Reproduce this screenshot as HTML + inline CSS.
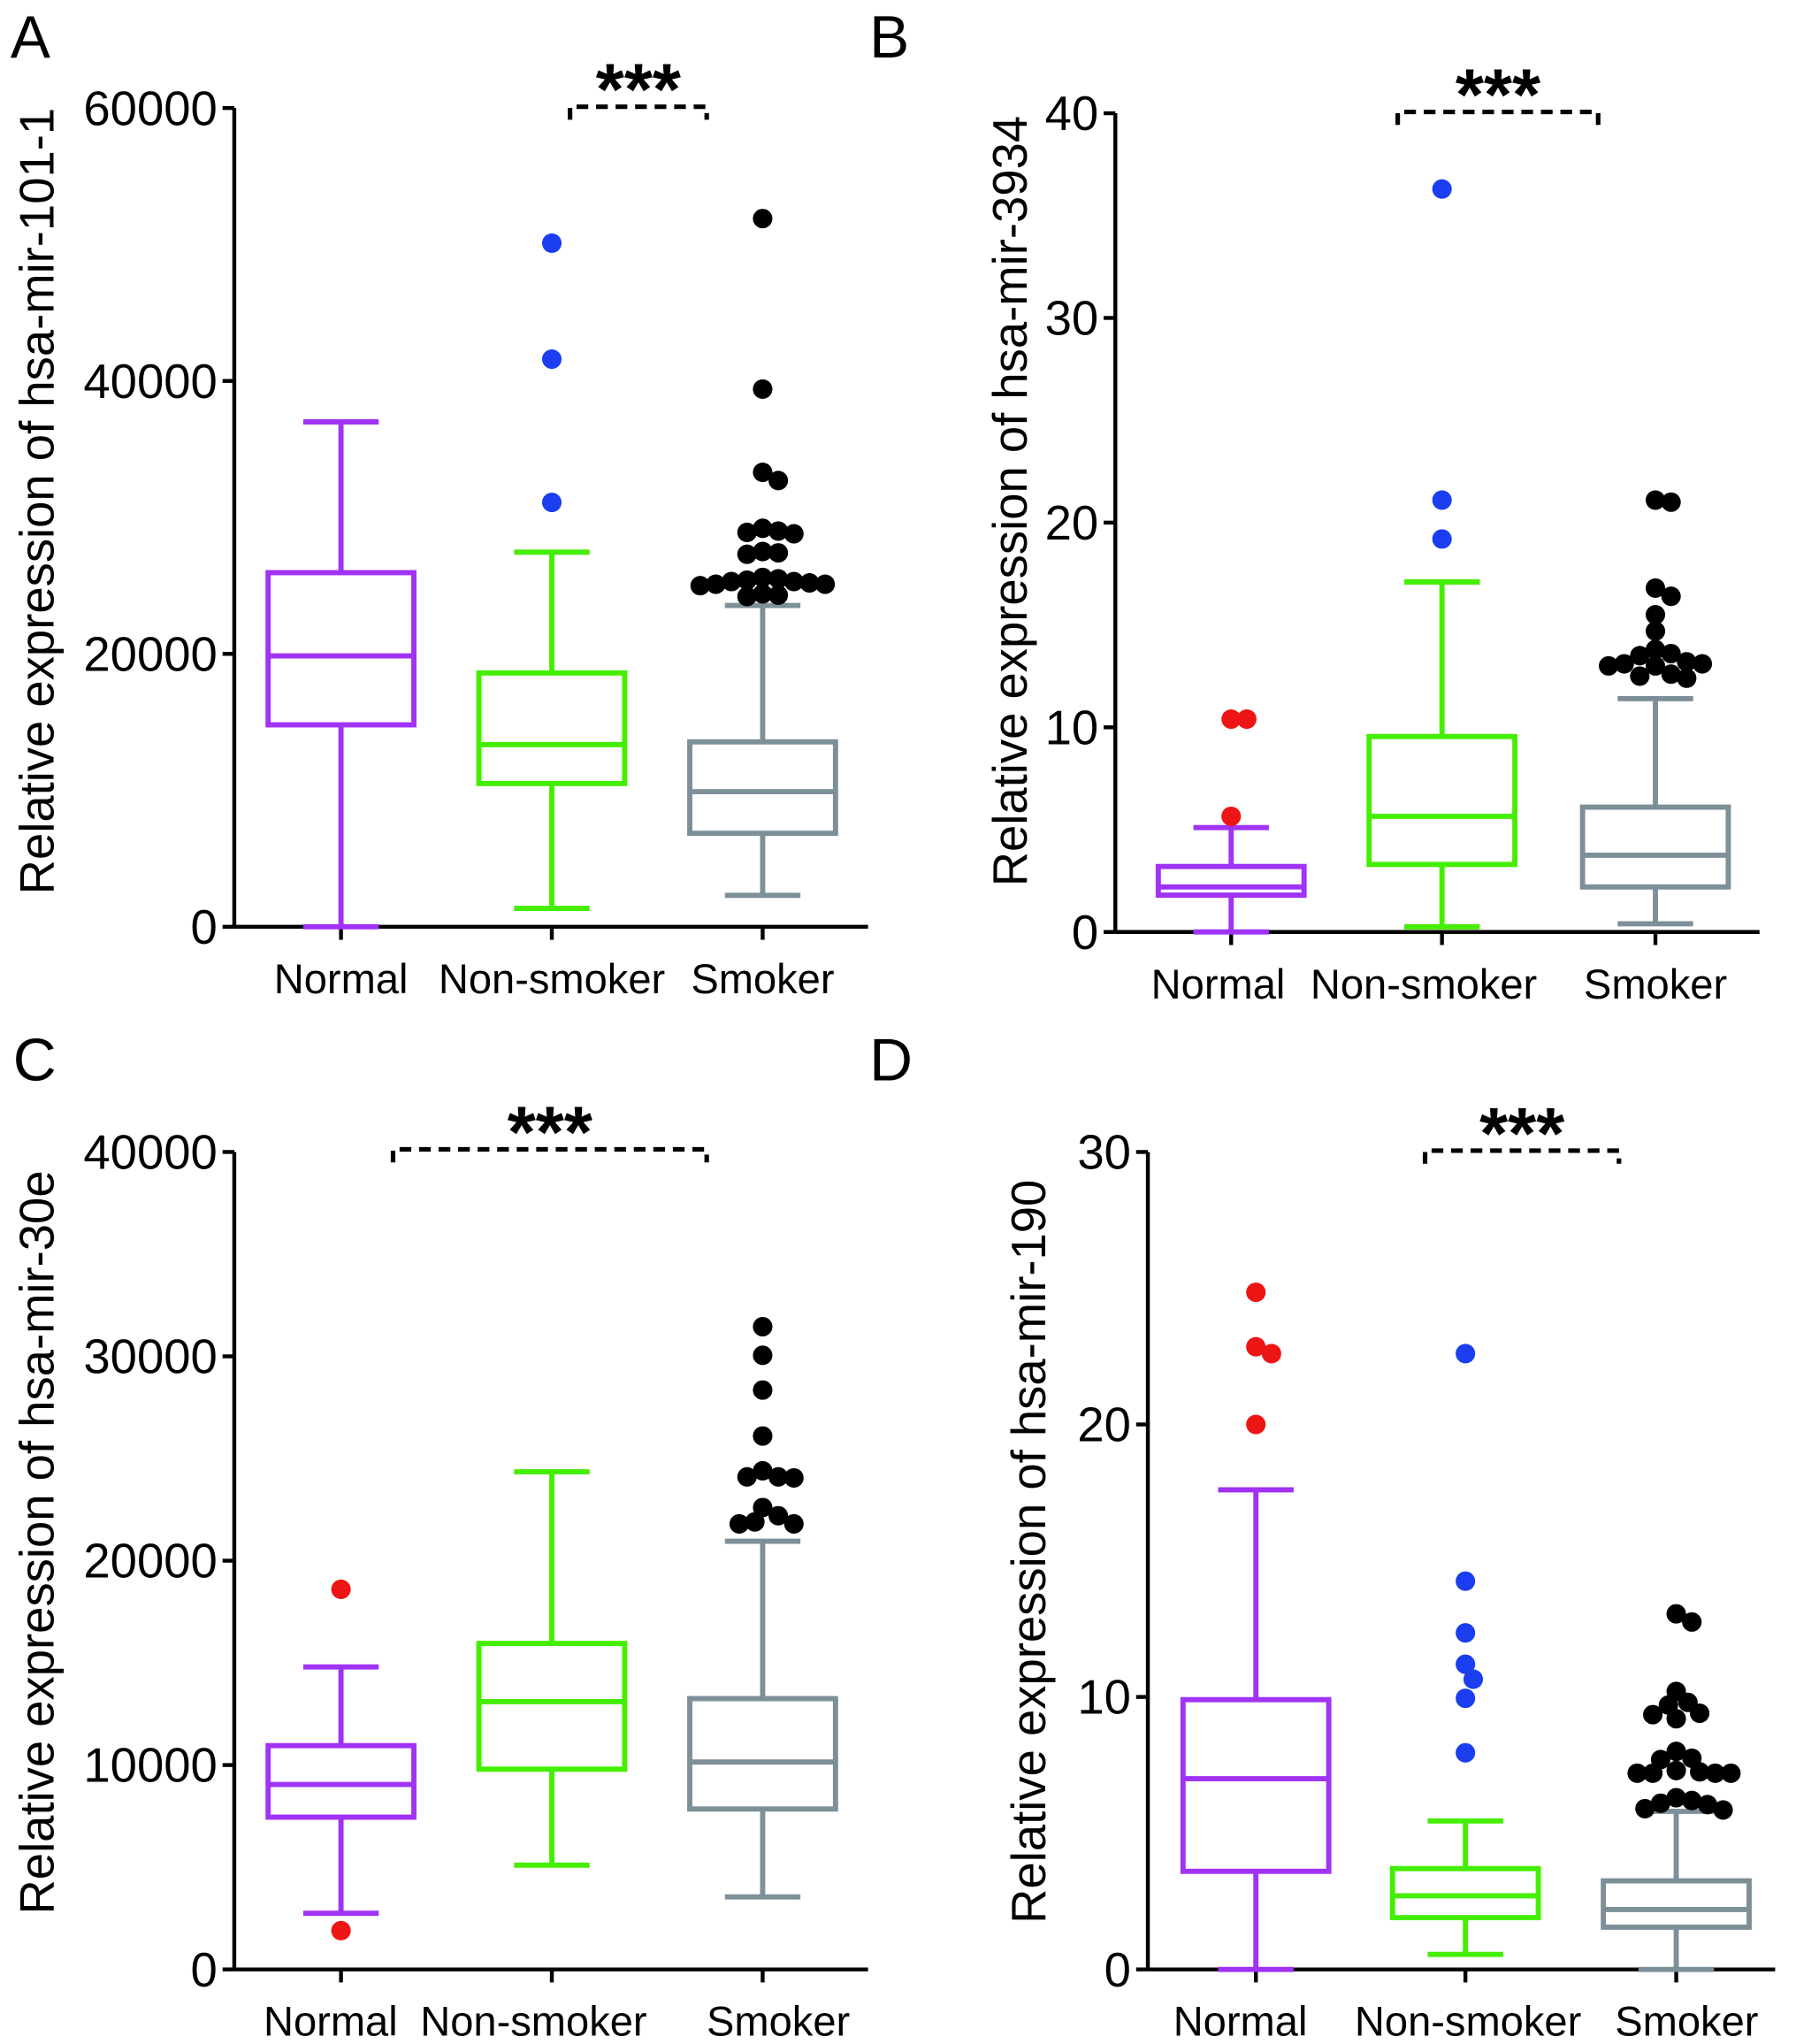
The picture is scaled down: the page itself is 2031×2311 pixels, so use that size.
<!DOCTYPE html>
<html><head><meta charset="utf-8"><style>
html,body{margin:0;padding:0;background:#fff}
svg{display:block}
text{font-family:"Liberation Sans",Arial,sans-serif;fill:#000}
</style></head><body>
<svg id="fig" width="2031" height="2311" viewBox="0 0 1380 1570.3" xmlns="http://www.w3.org/2000/svg"></svg>
<script>
// ---- data ----
const categories = ["Normal","Non-smoker","Smoker"];
// panel A: hsa-mir-101-1  [lower, q1, median, q3, upper]
const statsA = [[0,14800,19850,25950,37000],[1350,10500,13350,18600,27450],[2300,6850,9900,13550,23550]];
const outNormalA = [];
const outNonA = [31100,41600,50100];
const outSmokerA = [51900,39400,33300,32700,29000,28800,28900,29200,27400,27500,27300,25600,25400,25300,25200,25100,25000,25100,25300,25500,24400,24300,24200];
const ticksA = [0,20000,40000,60000];
// panel B: hsa-mir-3934
const statsB = [[0,1.8,2.2,3.2,5.1],[0.25,3.3,5.65,9.55,17.1],[0.4,2.2,3.75,6.1,11.4]];
const outNormalB = [5.65,10.4,10.4];
const outNonB = [19.2,21.1,36.3];
const outSmokerB = [21.0,21.1,16.8,16.4,15.5,14.7,13.8,13.6,13.5,13.2,13.1,13.0,13.1,13.0,12.6,12.5,12.4];
const ticksB = [0,10,20,30,40];
// panel C: hsa-mir-30e
const statsC = [[2750,7450,9050,10950,14800],[5100,9800,13100,15950,24350],[3550,7850,10150,13250,20950]];
const outNormalC = [18600,1900];
const outNonC = [];
const outSmokerC = [31450,30050,28350,26100,24400,24100,24050,24100,22600,22200,21800,21800,21900];
const ticksC = [0,10000,20000,30000,40000];
// panel D: hsa-mir-190
const statsD = [[0,3.6,7.0,9.9,17.6],[0.55,1.9,2.7,3.7,5.45],[0,1.55,2.2,3.25,5.8]];
const outNormalD = [24.85,22.85,22.6,20.0];
const outNonD = [22.6,14.25,12.35,11.2,10.65,9.95,7.95];
const outSmokerD = [13.05,12.75,10.2,9.8,9.7,9.4,9.35,9.2,8.0,7.75,7.7,7.3,7.2,7.2,7.2,7.2,7.25,6.3,6.2,6.1,6.05,5.9,5.85];
const ticksD = [0,10,20,30];

const NS="http://www.w3.org/2000/svg";
const svg=document.getElementById('fig');
function mk(tag,attrs,parent){const e=document.createElementNS(NS,tag);for(const k in attrs)e.setAttribute(k,attrs[k]);(parent||svg).appendChild(e);return e;}

const boxCols=["#a033f5","#44ee00","#7d8f99"];
const outCols=["#ee1515","#1a3ef0","#000"];

function panel(cfg){
  const g=mk('g',{});
  
  
  const y=v=>cfg.y0-(v-0)/cfg.max*(cfg.y0-cfg.yTop);
  const cx=i=>cfg.cats[i];
  const L=mk('text',{x:cfg.lx,y:cfg.ly,'font-size':46},g);L.textContent=cfg.letter;
  
  
  const ya=mk('line',{x1:cfg.ax,y1:cfg.yTop,x2:cfg.ax,y2:cfg.y0,stroke:'#000','stroke-width':3},g);
  
  
  const xa=mk('line',{x1:cfg.ax,y1:cfg.y0,x2:cfg.axEnd,y2:cfg.y0,stroke:'#000','stroke-width':3},g);
  
  
  cfg.ticks.forEach(t=>{
    mk('line',{x1:cfg.ax-9,y1:y(t),x2:cfg.ax,y2:y(t),stroke:'#000','stroke-width':3},g);
    const tx=mk('text',{x:cfg.ax-13,y:y(t)+13,'font-size':37,'text-anchor':'end'},g);tx.textContent=t;
    
    
  });
  categories.forEach((c,i)=>{
    mk('line',{x1:cx(i),y1:cfg.y0,x2:cx(i),y2:cfg.y0+10,stroke:'#000','stroke-width':3},g);
    const tx=mk('text',{x:cx(i)+(cfg.catShift?cfg.catShift[i]:0),y:cfg.y0+51,'font-size':32,'text-anchor':'middle'},g);tx.textContent=c;
    
    
  });
  const yt=mk('text',{x:0,y:0,'font-size':37,'text-anchor':'middle',transform:`translate(${cfg.tx},${cfg.ty}) rotate(-90)`},g);
  yt.textContent=cfg.title;
  
  
  const hw=56, cw=29;
  cfg.stats.forEach((s,i)=>{
    const bg=mk('g',{stroke:boxCols[i],'stroke-width':4,fill:'none'},g);
    
    
    const x=cx(i);
    mk('line',{x1:x,y1:y(s[0]),x2:x,y2:y(s[1])},bg);
    mk('line',{x1:x,y1:y(s[3]),x2:x,y2:y(s[4])},bg);
    mk('line',{x1:x-cw,y1:y(s[0]),x2:x+cw,y2:y(s[0])},bg);
    mk('line',{x1:x-cw,y1:y(s[4]),x2:x+cw,y2:y(s[4])},bg);
    mk('rect',{x:x-hw,y:y(s[3]),width:2*hw,height:y(s[1])-y(s[3])},bg);
    mk('line',{x1:x-hw,y1:y(s[2]),x2:x+hw,y2:y(s[2])},bg);
  });
  const r=7.5;
  cfg.outs.forEach((arr,i)=>{
    const placed=[];
    [...arr].sort((a,b)=>b-a).forEach(v=>{
      const py=y(v);let ox=0;
      for(let k=0;k<60;k++){
        const cand=k===0?0:(k%2?1:-1)*Math.ceil(k/2)*3;
        if(placed.every(p=>Math.hypot(p[0]-cand,p[1]-py)>=2*r*0.8)){ox=cand;break;}
      }
      placed.push([ox,py]);
      const d=mk('circle',{cx:cx(i)+ox,cy:py,r:r,fill:outCols[i]},g);
      
      
    });
  });
  const b=cfg.br;
  const bp=mk('path',{d:`M${b[0]},${b[2]+10}V${b[2]}H${b[1]}V${b[2]+10}`,stroke:'#000','stroke-width':3.5,fill:'none','stroke-dasharray':'9,6'},g);
  
  
  const st=mk('text',{x:(b[0]+b[1])/2,y:b[2]+6,'font-size':56,'font-weight':'bold','text-anchor':'middle'},g);st.textContent='***';
  
  
}

panel({letter:'A',lx:8,ly:44,ax:180,axEnd:667,y0:712,yTop:83,max:60000,cats:[262,424,586],ticks:ticksA,stats:statsA,outs:[outNormalA,outNonA,outSmokerA],title:'Relative expression of hsa-mir-101-1',tx:41,ty:385,br:[438,543,82]});
panel({letter:'B',lx:668,ly:44,ax:857,axEnd:1352,y0:716,yTop:87,max:40,cats:[946,1108,1272],ticks:ticksB,stats:statsB,outs:[outNormalB,outNonB,outSmokerB],title:'Relative expression of hsa-mir-3934',tx:789,ty:385,br:[1074,1228,86],catShift:[-10,-14,0]});
panel({letter:'C',lx:10,ly:830,ax:180,axEnd:667,y0:1513,yTop:885,max:40000,cats:[262,424,586],ticks:ticksC,stats:statsC,outs:[outNormalC,outNonC,outSmokerC],title:'Relative expression of hsa-mir-30e',tx:41,ty:1185,br:[302,543,883],catShift:[-8,-14,12]});
panel({letter:'D',lx:668,ly:830,ax:882,axEnd:1364,y0:1513,yTop:885,max:30,cats:[965,1126,1288],ticks:ticksD,stats:statsD,outs:[outNormalD,outNonD,outSmokerD],title:'Relative expression of hsa-mir-190',tx:803,ty:1192,br:[1095,1244,884],catShift:[-12,2,8]});
</script>
</body></html>
